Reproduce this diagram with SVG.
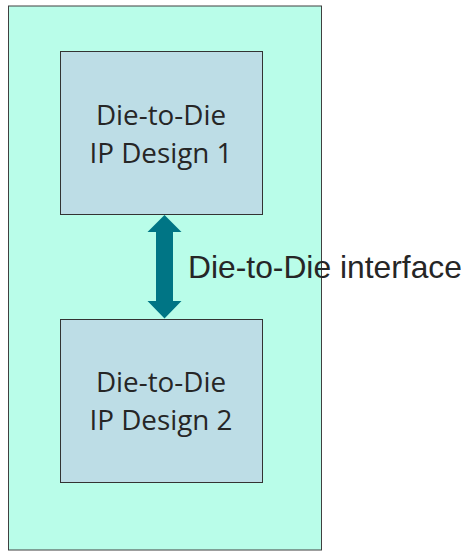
<svg xmlns="http://www.w3.org/2000/svg" width="467" height="552" viewBox="0 0 467 552">
  <style>
    .die { fill: #bddde6; stroke: #333333; stroke-width: 1; }
    .boxtext { font-family: "Open Sans", "Noto Sans", sans-serif; font-size: 27.8px; fill: #262626; text-anchor: middle; }
    .label { font-family: "Liberation Sans", Arial, sans-serif; font-size: 31.8px; fill: #262626; }
  </style>
  <g id="package">
    <rect x="8.5" y="6" width="313" height="544" fill="#b9fde9" stroke="#404040" stroke-width="1"/>
  </g>
  <g id="connectors">
    <path d="M164.5,215 L181.5,232 L173,232 L173,301 L181.5,301 L164.5,318.5 L147.5,301 L156,301 L156,232 L147.5,232 Z" fill="#007585"/>
  </g>
  <g id="die1">
    <rect class="die" x="60.5" y="51.5" width="202" height="163"/>
    <text class="boxtext" x="161" y="125">Die-to-Die</text>
    <text class="boxtext" x="161" y="163">IP Design 1</text>
  </g>
  <g id="die2">
    <rect class="die" x="60.5" y="319.5" width="202" height="163"/>
    <text class="boxtext" x="161" y="392">Die-to-Die</text>
    <text class="boxtext" x="161" y="430">IP Design 2</text>
  </g>
  <g id="interface-label">
    <text class="label" x="188" y="278">Die-to-Die interface</text>
  </g>
</svg>
